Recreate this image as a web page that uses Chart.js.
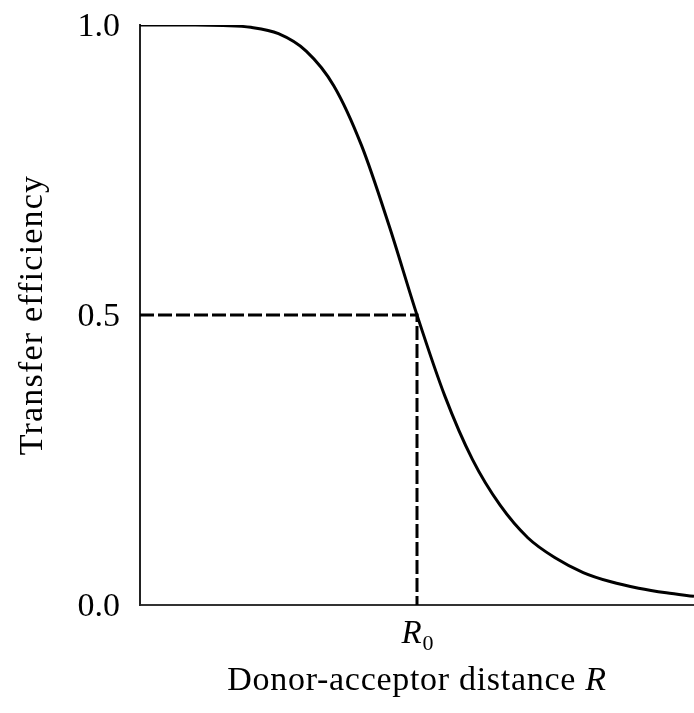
<!DOCTYPE html>
<html>
<head>
<meta charset="utf-8">
<script src="https://cdn.jsdelivr.net/npm/chart.js@4/dist/chart.umd.min.js"></script>
<style>
  html, body { margin: 0; padding: 0; background: #fff; }
  canvas { display: block; }
</style>
</head>
<body>
<canvas id="fret" width="694" height="713"></canvas>
<script>
// distance R in units of R0, and transfer efficiency
const distance = [0, 0.1, 0.2, 0.3, 0.4, 0.5, 0.6, 0.7, 0.8, 0.9, 1.0, 1.1, 1.2, 1.3, 1.4, 1.5, 1.6, 1.7, 1.8, 1.9, 2.0];
const efficiency = [1.000, 1.000, 1.000, 0.999, 0.996, 0.985, 0.955, 0.895, 0.792, 0.653, 0.500, 0.361, 0.251, 0.172, 0.116, 0.081, 0.056, 0.040, 0.029, 0.021, 0.015];
// dashed guide to the half-way point
const guideX = [0, 1, 1];
const guideY = [0.5, 0.5, 0];
const yTicks = [0, 0.5, 1];
const xTicks = [1];

const serif = '"Liberation Serif", "Times New Roman", serif';

const textPlugin = {
  id: 'axisText',
  afterDraw(chart) {
    const ctx = chart.ctx;
    const xs = chart.scales.x;
    const area = chart.chartArea;
    ctx.save();
    ctx.fillStyle = '#000';
    ctx.textBaseline = 'alphabetic';

    // R0 under the tick
    const px = xs.getPixelForValue(1);
    ctx.font = 'italic 33px ' + serif;
    const wR = ctx.measureText('R').width;
    ctx.font = '22px ' + serif;
    const w0 = ctx.measureText('0').width;
    let sx = px - (wR + w0) / 2;
    ctx.font = 'italic 33px ' + serif;
    ctx.textAlign = 'left';
    ctx.fillText('R', sx, 643);
    ctx.font = '22px ' + serif;
    ctx.fillText('0', sx + wR + 1, 650);

    // x title, spaced out a little like the reference
    ctx.letterSpacing = '0.7px';
    const cx = (area.left + area.right) / 2;
    ctx.font = '34px ' + serif;
    const main = 'Donor-acceptor distance ';
    const wm = ctx.measureText(main).width;
    ctx.font = 'italic 34px ' + serif;
    const wr = ctx.measureText('R').width;
    let tx = cx - (wm + wr) / 2;
    ctx.font = '34px ' + serif;
    ctx.fillText(main, tx, 690);
    ctx.font = 'italic 34px ' + serif;
    ctx.fillText('R', tx + wm, 690);

    // y title
    ctx.letterSpacing = '1.2px';
    ctx.translate(33, (area.top + area.bottom) / 2);
    ctx.rotate(-Math.PI / 2);
    ctx.font = '34px ' + serif;
    ctx.textAlign = 'center';
    ctx.textBaseline = 'middle';
    ctx.fillText('Transfer efficiency', 0, 0);
    ctx.restore();
  }
};

new Chart(document.getElementById('fret').getContext('2d'), {
  type: 'line',
  data: {
    datasets: [
      {
        data: distance.map((r, i) => ({ x: r, y: efficiency[i] })),
        borderColor: '#000',
        borderWidth: 3,
        pointRadius: 0,
        cubicInterpolationMode: 'monotone',
        fill: false
      },
      {
        data: guideX.map((r, i) => ({ x: r, y: guideY[i] })),
        borderColor: '#000',
        borderWidth: 3,
        borderDash: [14, 4],
        pointRadius: 0,
        tension: 0,
        fill: false
      }
    ]
  },
  options: {
    responsive: false,
    animation: false,
    devicePixelRatio: 1,
    layout: { padding: { top: 25, right: 0, bottom: 0, left: 0 } },
    plugins: {
      legend: { display: false },
      tooltip: { enabled: false }
    },
    scales: {
      x: {
        type: 'linear',
        min: 0,
        max: 2,
        grid: { display: false, drawTicks: false },
        border: { display: true, color: '#333', width: 2 },
        afterBuildTicks: s => { s.ticks = xTicks.map(v => ({ value: v })); },
        afterFit: s => { s.height = 108; s.paddingLeft = 0; s.paddingRight = 0; },
        ticks: { callback: () => '' }
      },
      y: {
        min: 0,
        max: 1,
        grid: { display: false, drawTicks: false },
        border: { display: true, color: '#222', width: 2 },
        afterBuildTicks: s => { s.ticks = yTicks.map(v => ({ value: v })); },
        afterFit: s => { s.width = 140; s.paddingTop = 0; s.paddingBottom = 0; },
        ticks: {
          padding: 20,
          labelOffset: 2,
          color: '#000',
          font: { family: serif, size: 34 },
          callback: v => Number(v).toFixed(1)
        }
      }
    }
  },
  plugins: [textPlugin]
});
</script>
</body>
</html>
